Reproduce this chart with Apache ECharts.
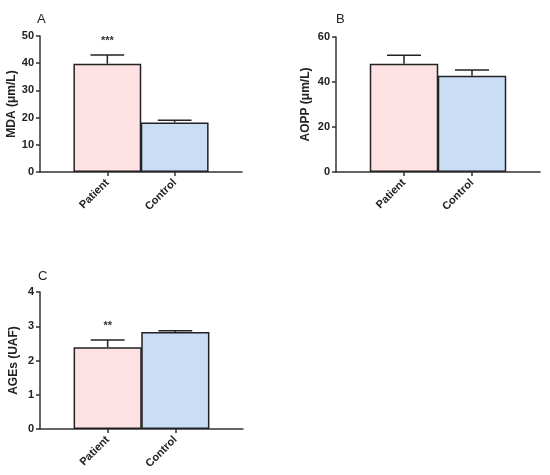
<!DOCTYPE html>
<html>
<head>
<meta charset="utf-8">
<script src="https://cdn.jsdelivr.net/npm/echarts@6/dist/echarts.min.js"></script>
<style>
  html, body { margin: 0; padding: 0; background: #fff; }
  #chart { width: 550px; height: 475px; }
</style>
</head>
<body>
<div id="chart"></div>
<script>
// 組別
const groups = ['Patient', 'Control'];

// A: MDA
const mdaMean = [39.8, 18.2];
const mdaErr = [43.0, 19.0];
const mdaSig = ['***', ''];

// B: AOPP
const aoppMean = [48.1, 42.8];
const aoppErr = [51.9, 45.3];
const aoppSig = ['', ''];

// C: AGEs
const agesMean = [2.39, 2.83];
const agesErr = [2.60, 2.87];
const agesSig = ['**', ''];

const barColors = ['#fde1e3', '#c9ddf5'];
const font = 'Liberation Sans, Arial, sans-serif';

document.addEventListener("DOMContentLoaded", function () {
    const chart = echarts.init(document.getElementById('chart'));

    const panels = [
        { name: 'MDA (μm/L)', mean: mdaMean, err: mdaErr, sig: mdaSig, max: 50, interval: 10,
          grid: { left: 40, top: 36, width: 202, height: 136 } },
        { name: 'AOPP (μm/L)', mean: aoppMean, err: aoppErr, sig: aoppSig, max: 60, interval: 20,
          grid: { left: 336, top: 37, width: 204, height: 135 } },
        { name: 'AGEs (UAF)', mean: agesMean, err: agesErr, sig: agesSig, max: 4, interval: 1,
          grid: { left: 40, top: 292, width: 203, height: 137 } }
    ];

    const grid = [], xAxis = [], yAxis = [], series = [];

    panels.forEach(function (p, i) {
        grid.push(p.grid);
        xAxis.push({
            type: 'value', gridIndex: i, min: 0, max: 3, interval: 1,
            splitLine: { show: false },
            axisLine: { show: true, lineStyle: { color: '#333', width: 1.5 } },
            axisTick: { show: true, length: 4, customValues: [1, 2], lineStyle: { color: '#333', width: 1.5 } },
            axisLabel: {
                customValues: [1, 2],
                rotate: 45, margin: 9,
                fontFamily: font, fontWeight: 'bold', fontSize: 11, color: '#222',
                formatter: function (v) { return groups[v - 1] || ''; }
            }
        });
        yAxis.push({
            type: 'value', gridIndex: i, min: 0, max: p.max, interval: p.interval,
            name: p.name, nameLocation: 'middle', nameGap: i === 1 ? 24 : 20, nameRotate: 90,
            nameTextStyle: { fontFamily: font, fontWeight: 'bold', fontSize: 12, color: '#222' },
            splitLine: { show: false },
            axisLine: { show: true, lineStyle: { color: '#333', width: 1.5 } },
            axisTick: { show: true, length: 4, lineStyle: { color: '#333', width: 1.5 } },
            axisLabel: { margin: 6, fontFamily: font, fontWeight: 'bold', fontSize: 11, color: '#222' }
        });
        series.push({
            type: 'bar', xAxisIndex: i, yAxisIndex: i, barWidth: p.grid.width / 3 + 0.5,
            data: p.mean.map(function (v, k) {
                return { value: [k + 1, v], itemStyle: { color: barColors[k] } };
            }),
            itemStyle: { borderColor: '#222', borderWidth: 1.5 },
            silent: true
        });
        // 誤差線與顯著性標記
        series.push({
            type: 'custom', xAxisIndex: i, yAxisIndex: i, z: 5, silent: true,
            data: p.mean.map(function (v, k) { return [k + 1, v, p.err[k]]; }),
            renderItem: function (params, api) {
                const k = params.dataIndex;
                const base = api.coord([api.value(0), api.value(1)]);
                const top = api.coord([api.value(0), api.value(2)]);
                const half = api.size([1, 0])[0] / 4;
                const style = { stroke: '#222', lineWidth: 1.5 };
                return {
                    type: 'group',
                    children: [
                        { type: 'line', shape: { x1: base[0], y1: base[1], x2: top[0], y2: top[1] }, style: style },
                        { type: 'line', shape: { x1: top[0] - half, y1: top[1], x2: top[0] + half, y2: top[1] }, style: style },
                        { type: 'text', x: top[0], y: top[1] - 14,
                          style: { text: p.sig[k], fontFamily: font, fontWeight: 'bold', fontSize: 11,
                                   fill: '#333', align: 'center', verticalAlign: 'middle' } }
                    ]
                };
            }
        });
    });

    chart.setOption({
        animation: false,
        title: [
            { text: 'A', left: 32, top: 8, textStyle: { fontFamily: font, fontWeight: 'normal', fontSize: 13, color: '#222' } },
            { text: 'B', left: 331, top: 8, textStyle: { fontFamily: font, fontWeight: 'normal', fontSize: 13, color: '#222' } },
            { text: 'C', left: 33, top: 265, textStyle: { fontFamily: font, fontWeight: 'normal', fontSize: 13, color: '#222' } }
        ],
        grid: grid,
        xAxis: xAxis,
        yAxis: yAxis,
        series: series
    });
});
</script>
</body>
</html>
